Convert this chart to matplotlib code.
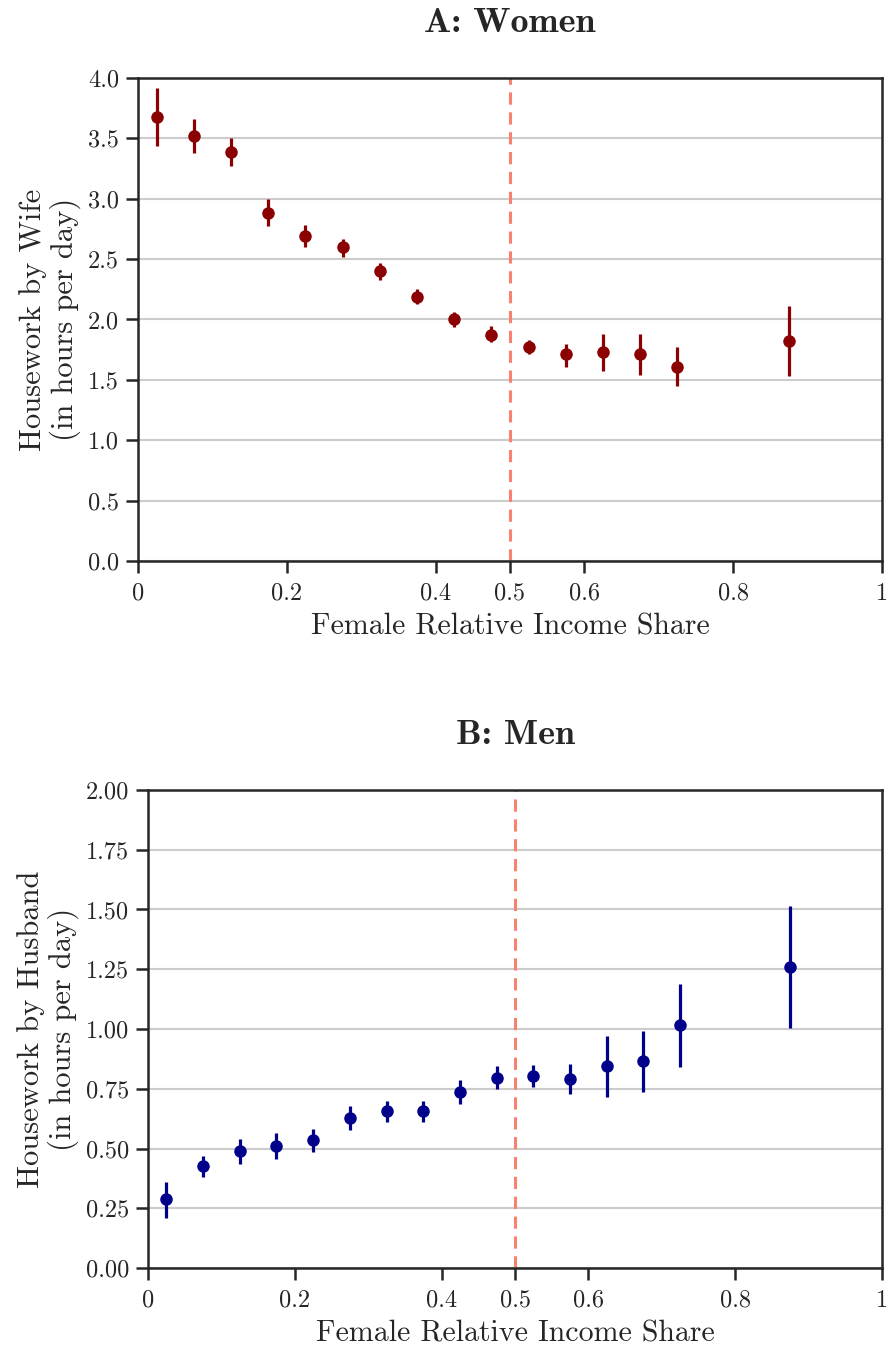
import matplotlib
matplotlib.use("Agg")
import matplotlib.pyplot as plt
import numpy as np

# bin centres of female relative income share
share = [0.025, 0.075, 0.125, 0.175, 0.225, 0.275, 0.325, 0.375,
         0.425, 0.475, 0.525, 0.575, 0.625, 0.675, 0.725, 0.875]

wife_mean = [3.68, 3.52, 3.39, 2.88, 2.69, 2.60, 2.40, 2.19,
             2.00, 1.87, 1.77, 1.71, 1.73, 1.71, 1.61, 1.82]
wife_lo = [3.44, 3.38, 3.27, 2.77, 2.60, 2.52, 2.33, 2.13,
           1.94, 1.81, 1.71, 1.61, 1.57, 1.54, 1.45, 1.53]
wife_hi = [3.92, 3.66, 3.50, 3.00, 2.78, 2.67, 2.47, 2.25,
           2.06, 1.95, 1.83, 1.80, 1.88, 1.88, 1.77, 2.11]

husb_mean = [0.289, 0.427, 0.490, 0.510, 0.535, 0.628, 0.657, 0.657,
             0.736, 0.795, 0.803, 0.790, 0.845, 0.866, 1.017, 1.260]
husb_lo = [0.21, 0.38, 0.435, 0.456, 0.485, 0.577, 0.61, 0.61,
           0.686, 0.749, 0.757, 0.728, 0.716, 0.736, 0.84, 1.004]
husb_hi = [0.36, 0.47, 0.54, 0.565, 0.58, 0.68, 0.70, 0.70,
           0.787, 0.845, 0.85, 0.853, 0.97, 0.99, 1.19, 1.515]

xticks = [0, 0.2, 0.4, 0.5, 0.6, 0.8, 1]
xticklabels = ['0', '0.2', '0.4', '0.5', '0.6', '0.8', '1']

plt.rcParams['font.family'] = ['cmr10', 'DejaVu Serif']
plt.rcParams['mathtext.fontset'] = 'cm'
plt.rcParams['axes.unicode_minus'] = False
plt.rcParams['axes.formatter.use_mathtext'] = True

dark = '#262626'

fig = plt.figure(figsize=(8.88, 13.46), dpi=100)
ax1 = fig.add_axes([0.1554, 0.5832, 0.8378, 0.3589])
ax2 = fig.add_axes([0.1667, 0.0579, 0.8266, 0.3552])


def panel(ax, mean, lo, hi, color, yticks, yfmt, title, ylabel):
    mean = np.array(mean)
    err = [mean - np.array(lo), np.array(hi) - mean]
    ax.errorbar(share, mean, yerr=err, fmt='o', color=color, ms=8,
                elinewidth=2.3, capsize=0, zorder=3)
    ax.axvline(0.5, color='salmon', ls='--', lw=2.2, dashes=(4, 2.5), zorder=2)
    ax.set_xlim(0, 1)
    ax.set_ylim(yticks[0], yticks[-1])
    ax.set_yticks(yticks)
    ax.set_yticklabels([yfmt.format(v) for v in yticks])
    ax.set_xticks(xticks)
    ax.set_xticklabels(xticklabels)
    ax.grid(axis='y', color='#cccccc', lw=1.5, zorder=0)
    ax.set_axisbelow(True)
    for s in ax.spines.values():
        s.set_color(dark)
        s.set_linewidth(1.8)
    ax.tick_params(colors=dark, labelsize=17.5, width=1.8, length=8.5, pad=7)
    ax.tick_params(axis='y', pad=5)
    ax.set_xlabel('Female Relative Income Share', fontsize=21.5, color=dark, labelpad=6)
    ax.set_ylabel(ylabel, fontsize=22, color=dark, labelpad=5, linespacing=1.1)
    ax.set_title(title, fontsize=26, color=dark, family='cmb10', pad=33)


panel(ax1, wife_mean, wife_lo, wife_hi, 'darkred',
      np.arange(0, 4.01, 0.5), '{:.1f}', 'A: Women',
      'Housework by Wife\n(in hours per day)')
panel(ax2, husb_mean, husb_lo, husb_hi, 'darkblue',
      np.arange(0, 2.01, 0.25), '{:.2f}', 'B: Men',
      'Housework by Husband\n(in hours per day)')

fig.savefig('out.png', dpi=100)
